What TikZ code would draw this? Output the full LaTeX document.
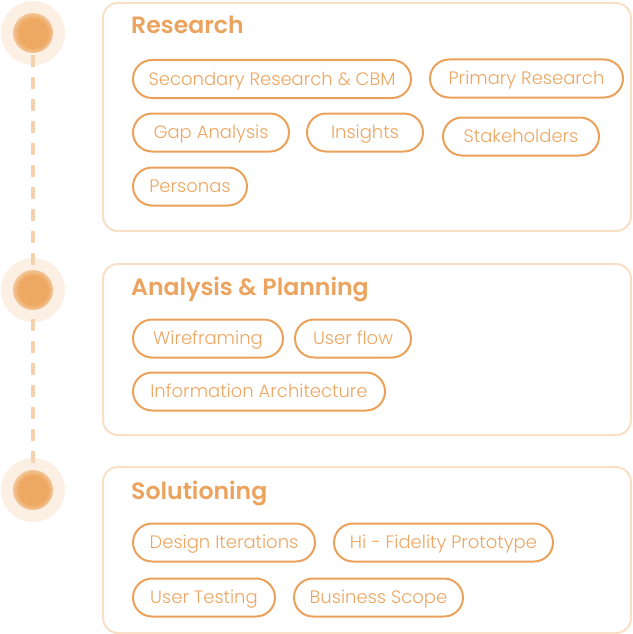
\documentclass[tikz,border=0pt]{standalone}
\usepackage{fontspec}
\setmainfont{Poppins}
\newfontfamily\pillfont{Poppins Light}
\newfontfamily\headfont{Poppins SemiBold}

\definecolor{cardline}{HTML}{F9DFC5}
\definecolor{pillline}{HTML}{EBA15A}
\definecolor{pilltext}{HTML}{EDA661}
\definecolor{headtext}{HTML}{EBA35E}
\definecolor{trailcol}{HTML}{F5D2AE}
\definecolor{halocol}{HTML}{FCEFE3}
\definecolor{corecol}{HTML}{EDA862}

\pgfdeclareradialshading{dotglow}{\pgfpoint{0bp}{0bp}}{color(0bp)=(corecol); color(18bp)=(corecol); color(35bp)=(halocol); color(50bp)=(halocol)}

\begin{document}
\begin{tikzpicture}[x=1pt, y=-1pt,
    card/.style={draw=cardline, line width=2pt, rounded corners=15pt, anchor=north west, inner sep=0pt, minimum width=528pt},
    pill/.style={draw=pillline, line width=2pt, rounded corners=19pt, anchor=west, inner sep=0pt, minimum height=38pt, text height=12.6pt, text depth=0pt, font=\pillfont\fontsize{18}{20}\selectfont, text=pilltext},
    stagehead/.style={anchor=base west, inner sep=0pt, font=\headfont\fontsize{23.6}{26}\selectfont, text=headtext},
    halo/.style={fill=halocol},
    trail/.style={draw=trailcol, line width=4pt, dash pattern=on 12pt off 10pt}]
  \useasboundingbox (0,0) rectangle (632,634);

  % timeline
  \coordinate (dotA) at (33,33);
  \coordinate (dotB) at (33,290);
  \coordinate (dotC) at (33,490);
  \foreach \d in {dotA,dotB,dotC}
    \fill[halo] (\d) circle[radius=32pt];
  \draw[trail] (dotA) -- (dotC);
  \foreach \d in {dotA,dotB,dotC}
    \shade[shading=dotglow] (\d) circle[radius=20pt];

  % cards
  \node[card, minimum height=228pt] (research) at (102,2) {};
  \node[card, minimum height=171pt] (analysis) at (102,263) {};
  \node[card, minimum height=166pt] (solution) at (102,466) {};

  \node[stagehead] (researchT) at (131,34) {Research};
  \node[stagehead] (analysisT) at (131,295) {Analysis \& Planning};
  \node[stagehead] (solutionT) at (131,499) {Solutioning};

  % research
  \node[pill, minimum width=278pt] (secondary) at (132,79) {Secondary Research \& CBM};
  \node[pill, minimum width=193pt] (primary) at (429,78.5) {Primary Research};
  \node[pill, minimum width=156pt] (gap) at (132,132.5) {Gap Analysis};
  \node[pill, minimum width=116pt] (insights) at (306,132.5) {Insights};
  \node[pill, minimum width=156pt] (stake) at (442,136.5) {Stakeholders};
  \node[pill, minimum width=114pt] (personas) at (132,186.5) {Personas};

  % analysis & planning
  \node[pill, minimum width=150pt] (wire) at (132,338.5) {Wireframing};
  \node[pill, minimum width=116pt] (flow) at (294,338.5) {User flow};
  \node[pill, minimum width=252pt] (infoarch) at (132,391.5) {Information Architecture};

  % solutioning
  \node[pill, minimum width=182pt] (iter) at (132,542.5) {Design Iterations};
  \node[pill, minimum width=219pt] (hifi) at (333,542.5) {Hi - Fidelity Prototype};
  \node[pill, minimum width=142pt] (testing) at (132,597.5) {User Testing};
  \node[pill, minimum width=169pt] (scope) at (293,597.5) {Business Scope};
\end{tikzpicture}
\end{document}
